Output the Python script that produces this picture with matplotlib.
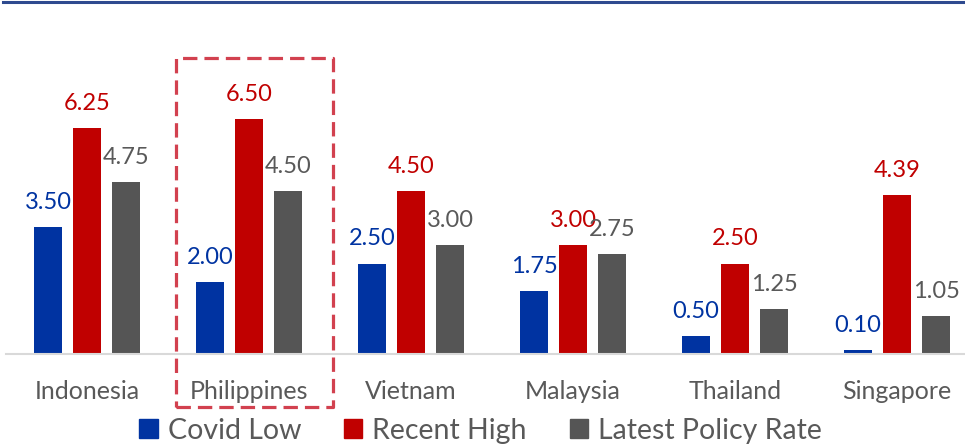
import matplotlib.pyplot as plt
from matplotlib.patches import Rectangle, Patch
import numpy as np

# dane z wykresu
countries = ["Indonesia", "Philippines", "Vietnam", "Malaysia", "Thailand", "Singapore"]
covidLow = [3.50, 2.00, 2.50, 1.75, 0.50, 0.10]
recentHigh = [6.25, 6.50, 4.50, 3.00, 2.50, 4.39]
latestRate = [4.75, 4.50, 3.00, 2.75, 1.25, 1.05]
seriesNames = ["Covid Low", "Recent High", "Latest Policy Rate"]

colors = ["#0033A1", "#C00000", "#555555"]
labelColors = ["#0033A1", "#C00000", "#595959"]

plt.rcParams['font.family'] = ['Lato', 'DejaVu Sans']

W, H = 965, 447
fig = plt.figure(figsize=(W / 100, H / 100), dpi=100)
# os w pikselach: baseline y=354, gora y=3, kategorie co 162 px zaczynajac od x=6
ax = fig.add_axes([6 / W, (H - 354) / H, 972 / W, 351 / H])

x = np.arange(len(countries))
width = 0.173
offset = 0.241
allSeries = [covidLow, recentHigh, latestRate]
for k, values in enumerate(allSeries):
    pos = x + (k - 1) * offset
    ax.bar(pos, values, width, color=colors[k], zorder=2)
    for p, v in zip(pos, values):
        ax.annotate("%.2f" % v, (p, v), xytext=(0, 13), textcoords="offset points",
                    ha="center", va="baseline", fontsize=17, color=labelColors[k])

ax.set_xlim(-0.5, len(countries) - 0.5)
ax.set_ylim(0, 9.7)
ax.set_yticks([])
ax.set_xticks(x)
ax.set_xticklabels(countries, fontsize=18, color="#595959")
ax.tick_params(axis="x", length=0, pad=19)
for s in ["top", "right", "left"]:
    ax.spines[s].set_visible(False)
ax.spines["bottom"].set_color("#D9D9D9")
ax.spines["bottom"].set_linewidth(1.5)
ax.spines["bottom"].set_zorder(3)

# niebieska linia na gorze
fig.add_artist(plt.Line2D([3 / W, 1], [1 - 2 / H, 1 - 2 / H], color="#2E4A8F", lw=2.2))

# czerwona przerywana ramka wokol Filipin
fig.add_artist(Rectangle((176 / W, (H - 407) / H), 157 / W, 349 / H, fill=False,
                         edgecolor="#D2414F", lw=2.3, linestyle=(0, (4.5, 2.2)),
                         joinstyle="round"))

handles = [Patch(color=c) for c in colors]
fig.legend(handles, seriesNames, ncol=3, loc="lower center", bbox_to_anchor=(0.498, -0.05),
           frameon=False, fontsize=20.5, handlelength=0.65, handleheight=0.65,
           handletextpad=0.35, columnspacing=1.5, labelcolor="#595959")

plt.savefig("out.png", dpi=100)
